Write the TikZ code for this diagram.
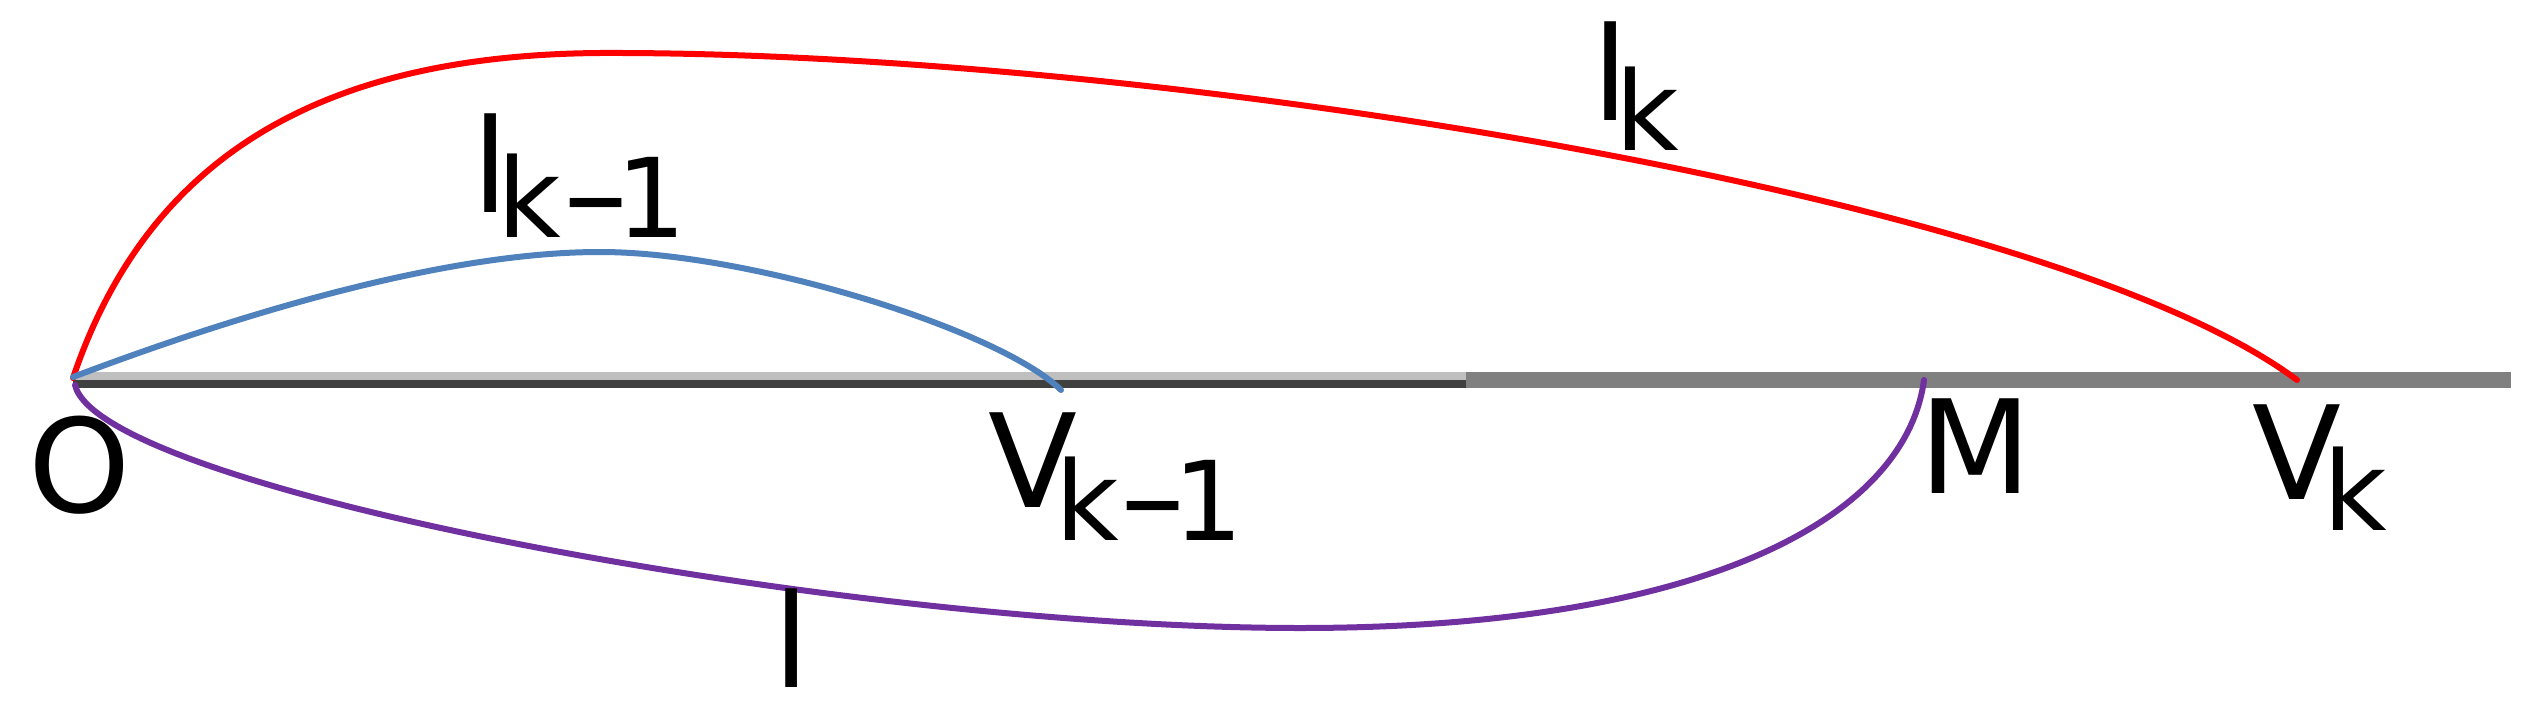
\documentclass[tikz,border=0pt]{standalone}
\usepackage{fontspec}
\usepackage{graphicx}
\setmainfont{DejaVu Sans}
\definecolor{cred}{HTML}{FF0000}
\definecolor{cblue}{HTML}{4F81BD}
\definecolor{cpurple}{HTML}{7030A0}
\definecolor{lgray}{HTML}{BFBFBF}
\definecolor{dgray}{HTML}{404040}
\definecolor{mgray}{HTML}{808080}
\newcommand{\mainsz}{\fontsize{130}{130}\selectfont}
\newcommand{\subsz}{\fontsize{110}{110}\selectfont}
\newcommand{\shortminus}{\scalebox{0.75}[1]{−}}
\begin{document}
\begin{tikzpicture}[x=1pt,y=-1pt,
  lbl/.style={inner sep=0pt, anchor=base west, font=\mainsz, text=black, text depth=0pt},
  curve/.style={line width=6pt, line cap=round},
  axis/.style={line width=8pt}]
\useasboundingbox (0,0) rectangle (2540,704);
\fill[white] (0,0) rectangle (2540,704);
% points on the axis
\coordinate (O) at (73,380);
\coordinate (Vkm) at (1061,380);
\coordinate (M) at (1924,380);
\coordinate (Vk) at (2297,380);
\coordinate (S) at (1466,380);
\coordinate (E) at (2511,380);
% axis
\draw[axis, lgray] ([yshift=4pt]O) -- ([yshift=4pt]S);
\draw[axis, dgray] ([yshift=-4pt]O) -- ([yshift=-4pt]S);
\draw[line width=16pt, mgray] (S) -- (E);
% curves
\draw[curve, cred] ([yshift=2pt]O) .. controls (150,150) and (330,55) .. (600,53)
   .. controls (1150,51) and (2050,195) .. (Vk);
\draw[curve, cblue] ([yshift=3pt]O) .. controls (250,310) and (450,252) .. (600,252)
   .. controls (750,252) and (1000,330) .. ([yshift=-10pt]Vkm);
\draw[curve, cpurple] ([shift={(2pt,-5pt)}]O) .. controls (100,490) and (850,628) .. (1300,628)
   .. controls (1700,628) and (1905,520) .. (M);
% labels
\node[lbl] (lO) at (28,512) {O};
\node[lbl] (lVkm) at (988,507) {V\kern-22pt\raisebox{-33pt}{\subsz k\shortminus\kern-14pt 1}};
\node[lbl] (lM) at (1919,493) {M};
\node[lbl] (lVk) at (2252,499) {V\kern-18pt\raisebox{-31pt}{\subsz k}};
\node[lbl] (llk) at (1592,120) {l\kern-13pt\raisebox{-30pt}{\subsz k}};
\node[lbl] (llkm) at (472,212) {l\kern-11pt\raisebox{-25pt}{\subsz k\shortminus\kern-14pt 1}};
\node[lbl] (ll) at (773,687) {l};
\end{tikzpicture}
\end{document}
